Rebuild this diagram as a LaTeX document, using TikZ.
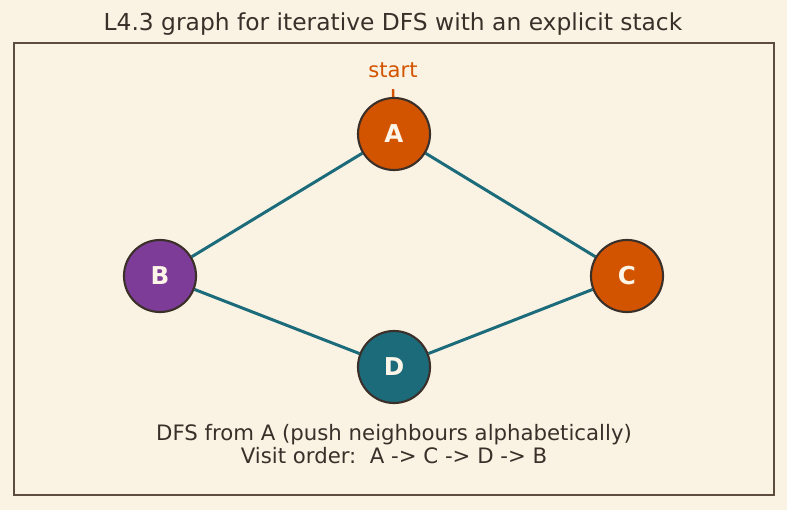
\documentclass[tikz,border=0pt]{standalone}
\usepackage{fontspec}
\setmainfont{DejaVu Sans}
\usepackage{xcolor}
\usetikzlibrary{arrows.meta, positioning, backgrounds}
\definecolor{paper}{HTML}{FAF3E3}
\definecolor{ink}{HTML}{3B2F2A}
\definecolor{frameline}{HTML}{5C4D3F}
\definecolor{tealc}{HTML}{1B6B7B}
\definecolor{orangec}{HTML}{D35400}
\definecolor{purplec}{HTML}{7D3C98}
\definecolor{nodetext}{HTML}{FDF5E8}
\tikzset{
  font=\normalsize,                      % plain text everywhere
  vertex/.style      = {circle, draw=ink, line width=1.2pt,
                        minimum size=41pt, inner sep=0pt,
                        text=nodetext, font=\fontsize{14}{16}\selectfont\bfseries},
  edge/.style        = {tealc, line width=1.7pt},
  marker/.style      = {orangec, line width=1.4pt, -{Stealth[length=6pt]}},
  caption/.style     = {text=ink, font=\fontsize{12.1}{13}\selectfont, align=center}
}
\begin{document}
\begin{tikzpicture}[x=0.02cm, y=-0.02cm]
  \useasboundingbox (0,0) rectangle (787,510);
  \draw[frameline, line width=0.8pt] (14,43) rectangle (774,495);
  \node[text=ink, font=\fontsize{13.3}{15}\selectfont] (title) at (393,24)
    {L4.3 graph for iterative DFS with an explicit stack};
  % vertices
  \node[vertex, fill=orangec] (A) at (394,134) {A};
  \node[vertex, fill=purplec] (B) at (160,276) {B};
  \node[vertex, fill=orangec] (C) at (627,276) {C};
  \node[vertex, fill=tealc]   (D) at (394,367) {D};
  \node[text=orangec, font=\fontsize{12}{14}\selectfont] (startlbl) at (393,70) {start};
  % page and edges under the vertices
  \begin{pgfonlayer}{background}
    \fill[paper] (0,0) rectangle (787,510);
    \draw[edge] (A) -- (B);
    \draw[edge] (A) -- (C);
    \draw[edge] (B) -- (D);
    \draw[edge] (C) -- (D);
    \draw[marker] ([yshift=-3pt]startlbl.south) -- (A.center);
  \end{pgfonlayer}
  % notes
  \node[caption] (note) at (394,444)
    {DFS from A (push neighbours alphabetically)\\Visit order:\ \ A -> C -> D -> B};
\end{tikzpicture}
\end{document}
